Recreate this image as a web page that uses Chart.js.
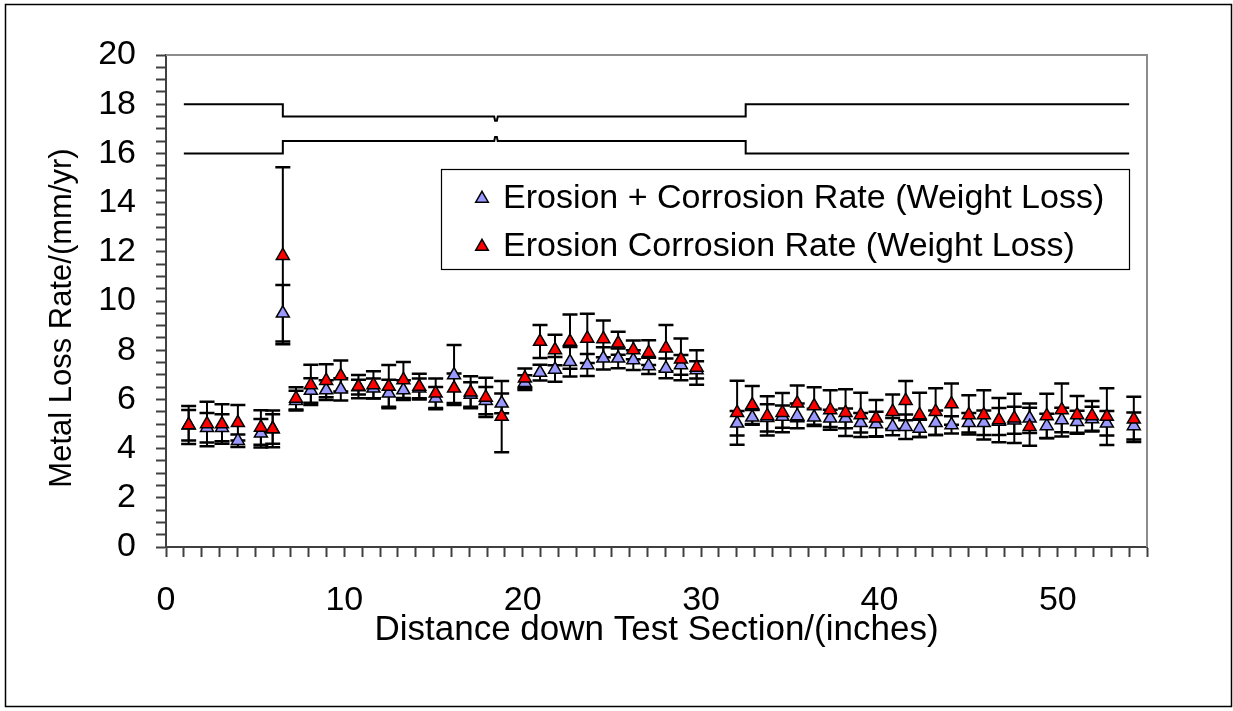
<!DOCTYPE html>
<html>
<head>
<meta charset="utf-8">
<title>Metal Loss Rate</title>
<script src="https://cdn.jsdelivr.net/npm/chart.js@4.4.1/dist/chart.umd.min.js"></script>
<style>
  html, body { margin: 0; padding: 0; background: #fff; }
</style>
</head>
<body>
<canvas id="lossChart" width="1233" height="711"></canvas>
<script>
// distance down the test section (inches)
var distance = [1.27, 2.30, 3.14, 4.03, 5.32, 5.98, 6.55, 7.29, 8.12, 8.98,
  9.80, 10.79, 11.63, 12.49, 13.31, 14.2, 15.12, 16.15, 17.08, 17.93,
  18.82, 20.12, 20.97, 21.81, 22.65, 23.62, 24.52, 25.35, 26.2, 27.06,
  28.03, 28.87, 29.75, 32.02, 32.87, 33.71, 34.56, 35.39, 36.34, 37.24,
  38.1, 38.95, 39.81, 40.74, 41.47, 42.25, 43.15, 44.04, 45.01, 45.85,
  46.7, 47.56, 48.42, 49.38, 50.22, 51.08, 51.92, 52.75, 54.26];

// Erosion + Corrosion Rate (blue)
var plusRate = [4.95, 4.85, 4.85, 4.32, 4.62, 4.8, 9.5, 5.95, 6.36, 6.38,
  6.41, 6.5, 6.45, 6.25, 6.38, 6.45, 6.05, 6.99, 6.2, 5.95,
  5.84, 6.68, 7.09, 7.22, 7.53, 7.4, 7.67, 7.67, 7.6, 7.36,
  7.26, 7.4, 7.2, 5.03, 5.27, 5.25, 5.3, 5.33, 5.27, 5.23,
  5.23, 5.05, 5.0, 4.89, 4.89, 4.82, 5.05, 4.96, 5.05, 5.05,
  5.1, 5.15, 5.23, 4.92, 5.16, 5.09, 5.2, 5.03, 4.92];
var plusErr = [0.62, 0.6, 0.55, 0.25, 0.58, 0.6, 1.15, 0.4, 0.5, 0.4,
  0.45, 0.3, 0.4, 0.55, 0.4, 0.4, 0.45, 1.22, 0.5, 0.55,
  0.4, 0.3, 0.32, 0.5, 0.6, 0.45, 0.45, 0.4, 0.4, 0.33,
  0.4, 0.4, 0.35, 0.5, 0.3, 0.55, 0.45, 0.5, 0.35, 0.35,
  0.4, 0.4, 0.5, 0.35, 0.5, 0.35, 0.5, 0.35, 0.4, 0.5,
  0.55, 0.55, 0.6, 0.5, 0.5, 0.45, 0.5, 0.5, 0.55];

// Erosion Corrosion Rate (red)
var ecRate = [4.96, 5.0, 5.0, 5.05, 4.86, 4.8, 11.84, 6.04, 6.59, 6.76,
  6.95, 6.52, 6.59, 6.52, 6.79, 6.52, 6.25, 6.45, 6.29, 6.08,
  5.3, 6.86, 8.35, 8.01, 8.35, 8.48, 8.46, 8.28, 8.01, 7.9,
  8.08, 7.63, 7.3, 5.46, 5.77, 5.33, 5.46, 5.84, 5.73, 5.57,
  5.46, 5.37, 5.23, 5.5, 5.95, 5.37, 5.5, 5.81, 5.37, 5.37,
  5.16, 5.23, 4.89, 5.33, 5.57, 5.37, 5.33, 5.3, 5.19];
var ecErr = [0.77, 0.9, 0.8, 0.72, 0.7, 0.75, 3.6, 0.45, 0.82, 0.67,
  0.63, 0.47, 0.55, 0.88, 0.73, 0.52, 0.6, 0.6, 0.65, 0.8,
  1.45, 0.4, 0.67, 0.62, 1.1, 1.0, 0.75, 0.47, 0.38, 0.5,
  0.94, 0.85, 0.7, 1.3, 0.77, 0.8, 0.8, 0.73, 0.76, 0.8,
  0.95, 0.9, 0.75, 0.7, 0.8, 0.9, 0.95, 0.84, 0.8, 1.0,
  0.9, 1.0, 0.77, 0.9, 1.08, 0.77, 0.6, 1.15, 0.92];

// test section outline
var wallX = [1, 6.55, 6.55, 18.4, 18.45, 18.55, 18.6, 32.5, 32.5, 54];
var upperWallY = [18, 18, 17.5, 17.5, 17.33, 17.33, 17.5, 17.5, 18, 18];
var lowerWallY = [16, 16, 16.5, 16.5, 16.67, 16.67, 16.5, 16.5, 16, 16];

var yTitle = 'Metal Loss Rate/(mm/yr)';

var FONT = '"Liberation Sans", Arial, sans-serif';
Chart.defaults.font.family = FONT;
Chart.defaults.color = '#000';

function points(xs, ys) {
  return xs.map(function(x, i) { return {x: x, y: ys[i]}; });
}

var errorBars = {
  id: 'errorBars',
  beforeDatasetsDraw: function(chart) {
    var ctx = chart.ctx, xs = chart.scales.x, ys = chart.scales.y;
    ctx.save();
    ctx.strokeStyle = '#000';
    chart.data.datasets.forEach(function(ds) {
      if (!ds.errors) return;
      ds.data.forEach(function(p, i) {
        var px = xs.getPixelForValue(p.x);
        var top = ys.getPixelForValue(p.y + ds.errors[i]);
        var bot = ys.getPixelForValue(p.y - ds.errors[i]);
        ctx.lineWidth = 2;
        ctx.beginPath();
        ctx.moveTo(px, top); ctx.lineTo(px, bot);
        ctx.stroke();
        ctx.lineWidth = 2.5;
        ctx.beginPath();
        ctx.moveTo(px - 7.5, top); ctx.lineTo(px + 7.5, top);
        ctx.moveTo(px - 7.5, bot); ctx.lineTo(px + 7.5, bot);
        ctx.stroke();
      });
    });
    ctx.restore();
  }
};

var frame = {
  id: 'frame',
  beforeDraw: function(chart) {
    var ctx = chart.ctx;
    ctx.save();
    ctx.fillStyle = '#fff';
    ctx.fillRect(0, 0, chart.width, chart.height);
    ctx.strokeStyle = '#000';
    ctx.lineWidth = 1.5;
    ctx.strokeRect(5.5, 4.5, 1226, 702);
    ctx.restore();
  },
  afterDraw: function(chart) {
    var ctx = chart.ctx, a = chart.chartArea;
    ctx.save();
    ctx.strokeStyle = '#8c8c8c';
    ctx.lineWidth = 2;
    ctx.beginPath();
    ctx.moveTo(a.left, a.top);
    ctx.lineTo(a.right, a.top);
    ctx.lineTo(a.right, a.bottom);
    ctx.stroke();

    // y axis title
    ctx.save();
    ctx.translate(62, 318);
    ctx.rotate(-Math.PI / 2);
    ctx.fillStyle = '#000';
    ctx.font = '31px ' + FONT;
    ctx.textAlign = 'center';
    ctx.textBaseline = 'middle';
    ctx.fillText(yTitle, 0, 0);
    ctx.restore();

    // legend box
    var box = {x: 441.5, y: 169.5, w: 688, h: 100};
    ctx.fillStyle = '#fff';
    ctx.fillRect(box.x, box.y, box.w, box.h);
    ctx.strokeStyle = '#000';
    ctx.lineWidth = 1.2;
    ctx.strokeRect(box.x, box.y, box.w, box.h);
    var rows = [198, 246];
    [0, 1].forEach(function(k) {
      var ds = chart.data.datasets[k];
      var cx = 482, cy = rows[k], r = 7;
      ctx.beginPath();
      ctx.moveTo(cx, cy - r * 0.95);
      ctx.lineTo(cx + r * 0.9, cy + r * 0.6);
      ctx.lineTo(cx - r * 0.9, cy + r * 0.6);
      ctx.closePath();
      ctx.fillStyle = ds.pointBackgroundColor;
      ctx.fill();
      ctx.lineWidth = 1.5;
      ctx.strokeStyle = '#000';
      ctx.stroke();
      ctx.fillStyle = '#000';
      ctx.font = '34px ' + FONT;
      ctx.textBaseline = 'middle';
      ctx.textAlign = 'left';
      ctx.fillText(ds.label, 503, cy + 1);
    });
    ctx.restore();
  }
};

var ctx = document.getElementById('lossChart');
var lossChart = new Chart(ctx, {
  type: 'scatter',
  data: {
    datasets: [
      {
        label: 'Erosion + Corrosion Rate (Weight Loss)',
        data: points(distance, plusRate),
        errors: plusErr,
        pointStyle: 'triangle',
        pointRadius: 7.5,
        pointHoverRadius: 7.5,
        pointBackgroundColor: '#9999FF',
        pointBorderColor: '#000',
        pointBorderWidth: 1.5,
        order: 2
      },
      {
        label: 'Erosion Corrosion Rate (Weight Loss)',
        data: points(distance, ecRate),
        errors: ecErr,
        pointStyle: 'triangle',
        pointRadius: 7.5,
        pointHoverRadius: 7.5,
        pointBackgroundColor: '#FF0000',
        pointBorderColor: '#000',
        pointBorderWidth: 1.5,
        order: 1
      },
      {
        label: 'upper wall',
        data: points(wallX, upperWallY),
        showLine: true,
        borderColor: '#000',
        borderWidth: 2,
        pointRadius: 0,
        tension: 0,
        order: 3
      },
      {
        label: 'lower wall',
        data: points(wallX, lowerWallY),
        showLine: true,
        borderColor: '#000',
        borderWidth: 2,
        pointRadius: 0,
        tension: 0,
        order: 3
      }
    ]
  },
  options: {
    responsive: false,
    animation: false,
    layout: { padding: { top: 55, right: 86, bottom: 0, left: 0 } },
    plugins: {
      legend: { display: false },
      tooltip: { enabled: false }
    },
    scales: {
      x: {
        type: 'linear',
        min: 0,
        max: 55,
        afterFit: function(s) { s.height = 164; },
        ticks: {
          stepSize: 1,
          autoSkip: false,
          maxRotation: 0,
          padding: 23,
          font: { size: 34 },
          callback: function(v) { return v % 10 === 0 ? v : ''; }
        },
        grid: { drawOnChartArea: false, tickLength: 10, tickColor: '#404040', tickWidth: 2 },
        border: { color: '#404040', width: 2 },
        title: {
          display: true,
          text: 'Distance down Test Section/(inches)',
          font: { size: 35 },
          padding: { top: 0, bottom: 60 }
        }
      },
      y: {
        min: 0,
        max: 20,
        afterFit: function(s) { s.width = 166; },
        ticks: {
          stepSize: 0.5,
          autoSkip: false,
          padding: 20,
          font: { size: 34 },
          callback: function(v) { return v % 2 === 0 ? v : ''; }
        },
        grid: { drawOnChartArea: false, tickLength: 10, tickColor: '#404040', tickWidth: 2 },
        border: { color: '#404040', width: 2 },
        title: { display: false }
      }
    }
  },
  plugins: [errorBars, frame]
});
</script>
</body>
</html>
